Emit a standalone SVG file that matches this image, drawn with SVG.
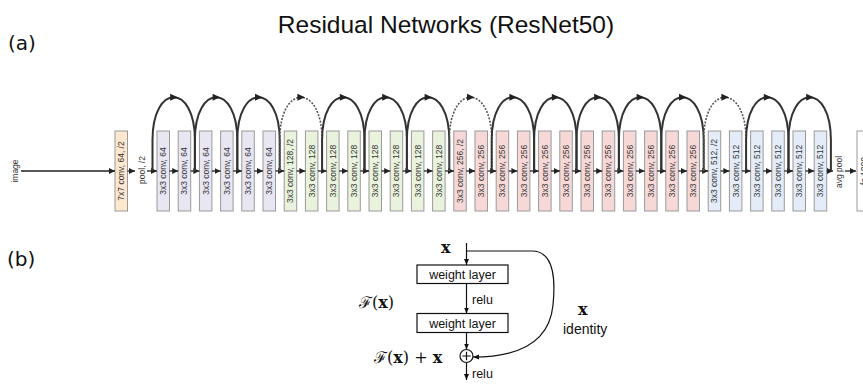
<svg xmlns="http://www.w3.org/2000/svg" xmlns:xlink="http://www.w3.org/1999/xlink" width="863" height="384" viewBox="0 0 863 384">
  <style>
    .title { font-family: "Liberation Sans", Arial, sans-serif; font-size: 24.5px; fill: #111; }
    .tag { font-family: "DejaVu Sans", sans-serif; font-size: 20px; fill: #111; }
    .conv rect { stroke: #9a9a9a; stroke-width: 1; }
    .conv text, .lbl { font-family: "Liberation Sans", Arial, sans-serif; font-size: 8.5px; fill: #333; text-anchor: middle; dominant-baseline: central; }
    .s0 rect { fill: #fde7cf; }
    .s1 rect { fill: #e8e6f2; }
    .s2 rect { fill: #e9f2dc; }
    .s3 rect { fill: #f6d9d7; }
    .s4 rect { fill: #e3ecf7; }
    .fc rect { fill: #ffffff; }
    .flow { stroke: #222; stroke-width: 1.3; fill: none; marker-end: url(#ah); }
    .skip { stroke: #333; stroke-width: 2; fill: none; }
    .skip.proj { stroke: #555; stroke-width: 1.6; stroke-dasharray: 2 1.4; }
    .tip { fill: #222; }
    .blk rect { fill: #fff; stroke: #111; stroke-width: 1.2; }
    .blk text, .bl { font-family: "Liberation Sans", Arial, sans-serif; font-size: 12.5px; fill: #111; }
    .math { font-family: "DejaVu Serif", "Liberation Serif", serif; font-size: 16px; fill: #111; }
    .bx { font-weight: bold; }
    .bline { stroke: #111; stroke-width: 1.2; fill: none; }
    .barrow { stroke: #111; stroke-width: 1.2; fill: none; marker-end: url(#bh); }
  </style>
  <defs>
    <marker id="ah" markerUnits="userSpaceOnUse" markerWidth="7" markerHeight="7" refX="6" refY="3.5" orient="auto">
      <path d="M0,0.5 L6,3.5 L0,6.5 z" fill="#222"/>
    </marker>
    <marker id="bh" markerUnits="userSpaceOnUse" markerWidth="7" markerHeight="7" refX="6" refY="3.5" orient="auto">
      <path d="M0,1 L6,3.5 L0,6 z" fill="#111"/>
    </marker>
    <path id="peak" d="M-3.5,-3.5 L4,0 L-3.5,3.5 z"/>
  </defs>

  <text class="title" x="446" y="33" text-anchor="middle">Residual Networks (ResNet50)</text>
  <text class="tag" x="8" y="50">(a)</text>
  <text class="tag" x="7" y="266">(b)</text>

  <!-- (a) ResNet chain -->
  <text class="lbl" transform="translate(15,171) rotate(-90)">image</text>
  <text class="lbl" transform="translate(142,170) rotate(-90)">pool, /2</text>
  <text class="lbl" transform="translate(839,172) rotate(-90)">avg pool</text>

  <g id="conv1" class="conv s0" transform="translate(115,131)"><rect width="12.5" height="80"/><text transform="translate(6.25,40) rotate(-90)">7x7 conv, 64, /2</text></g>

  <g id="c01" class="conv s1" transform="translate(157,131)"><rect width="12.5" height="80"/><text transform="translate(6.25,40) rotate(-90)">3x3 conv, 64</text></g>
  <g id="c02" class="conv s1" transform="translate(178.2,131)"><rect width="12.5" height="80"/><text transform="translate(6.25,40) rotate(-90)">3x3 conv, 64</text></g>
  <g id="c03" class="conv s1" transform="translate(199.4,131)"><rect width="12.5" height="80"/><text transform="translate(6.25,40) rotate(-90)">3x3 conv, 64</text></g>
  <g id="c04" class="conv s1" transform="translate(220.6,131)"><rect width="12.5" height="80"/><text transform="translate(6.25,40) rotate(-90)">3x3 conv, 64</text></g>
  <g id="c05" class="conv s1" transform="translate(241.8,131)"><rect width="12.5" height="80"/><text transform="translate(6.25,40) rotate(-90)">3x3 conv, 64</text></g>
  <g id="c06" class="conv s1" transform="translate(263,131)"><rect width="12.5" height="80"/><text transform="translate(6.25,40) rotate(-90)">3x3 conv, 64</text></g>

  <g id="c07" class="conv s2" transform="translate(284.2,131)"><rect width="12.5" height="80"/><text transform="translate(6.25,40) rotate(-90)">3x3 conv, 128, /2</text></g>
  <g id="c08" class="conv s2" transform="translate(305.4,131)"><rect width="12.5" height="80"/><text transform="translate(6.25,40) rotate(-90)">3x3 conv, 128</text></g>
  <g id="c09" class="conv s2" transform="translate(326.6,131)"><rect width="12.5" height="80"/><text transform="translate(6.25,40) rotate(-90)">3x3 conv, 128</text></g>
  <g id="c10" class="conv s2" transform="translate(347.8,131)"><rect width="12.5" height="80"/><text transform="translate(6.25,40) rotate(-90)">3x3 conv, 128</text></g>
  <g id="c11" class="conv s2" transform="translate(369,131)"><rect width="12.5" height="80"/><text transform="translate(6.25,40) rotate(-90)">3x3 conv, 128</text></g>
  <g id="c12" class="conv s2" transform="translate(390.2,131)"><rect width="12.5" height="80"/><text transform="translate(6.25,40) rotate(-90)">3x3 conv, 128</text></g>
  <g id="c13" class="conv s2" transform="translate(411.4,131)"><rect width="12.5" height="80"/><text transform="translate(6.25,40) rotate(-90)">3x3 conv, 128</text></g>
  <g id="c14" class="conv s2" transform="translate(432.6,131)"><rect width="12.5" height="80"/><text transform="translate(6.25,40) rotate(-90)">3x3 conv, 128</text></g>

  <g id="c15" class="conv s3" transform="translate(453.8,131)"><rect width="12.5" height="80"/><text transform="translate(6.25,40) rotate(-90)">3x3 conv, 256, /2</text></g>
  <g id="c16" class="conv s3" transform="translate(475,131)"><rect width="12.5" height="80"/><text transform="translate(6.25,40) rotate(-90)">3x3 conv, 256</text></g>
  <g id="c17" class="conv s3" transform="translate(496.2,131)"><rect width="12.5" height="80"/><text transform="translate(6.25,40) rotate(-90)">3x3 conv, 256</text></g>
  <g id="c18" class="conv s3" transform="translate(517.4,131)"><rect width="12.5" height="80"/><text transform="translate(6.25,40) rotate(-90)">3x3 conv, 256</text></g>
  <g id="c19" class="conv s3" transform="translate(538.6,131)"><rect width="12.5" height="80"/><text transform="translate(6.25,40) rotate(-90)">3x3 conv, 256</text></g>
  <g id="c20" class="conv s3" transform="translate(559.8,131)"><rect width="12.5" height="80"/><text transform="translate(6.25,40) rotate(-90)">3x3 conv, 256</text></g>
  <g id="c21" class="conv s3" transform="translate(581,131)"><rect width="12.5" height="80"/><text transform="translate(6.25,40) rotate(-90)">3x3 conv, 256</text></g>
  <g id="c22" class="conv s3" transform="translate(602.2,131)"><rect width="12.5" height="80"/><text transform="translate(6.25,40) rotate(-90)">3x3 conv, 256</text></g>
  <g id="c23" class="conv s3" transform="translate(623.4,131)"><rect width="12.5" height="80"/><text transform="translate(6.25,40) rotate(-90)">3x3 conv, 256</text></g>
  <g id="c24" class="conv s3" transform="translate(644.6,131)"><rect width="12.5" height="80"/><text transform="translate(6.25,40) rotate(-90)">3x3 conv, 256</text></g>
  <g id="c25" class="conv s3" transform="translate(665.8,131)"><rect width="12.5" height="80"/><text transform="translate(6.25,40) rotate(-90)">3x3 conv, 256</text></g>
  <g id="c26" class="conv s3" transform="translate(687,131)"><rect width="12.5" height="80"/><text transform="translate(6.25,40) rotate(-90)">3x3 conv, 256</text></g>

  <g id="c27" class="conv s4" transform="translate(708.2,131)"><rect width="12.5" height="80"/><text transform="translate(6.25,40) rotate(-90)">3x3 conv, 512, /2</text></g>
  <g id="c28" class="conv s4" transform="translate(729.4,131)"><rect width="12.5" height="80"/><text transform="translate(6.25,40) rotate(-90)">3x3 conv, 512</text></g>
  <g id="c29" class="conv s4" transform="translate(750.6,131)"><rect width="12.5" height="80"/><text transform="translate(6.25,40) rotate(-90)">3x3 conv, 512</text></g>
  <g id="c30" class="conv s4" transform="translate(771.8,131)"><rect width="12.5" height="80"/><text transform="translate(6.25,40) rotate(-90)">3x3 conv, 512</text></g>
  <g id="c31" class="conv s4" transform="translate(793,131)"><rect width="12.5" height="80"/><text transform="translate(6.25,40) rotate(-90)">3x3 conv, 512</text></g>
  <g id="c32" class="conv s4" transform="translate(814.2,131)"><rect width="12.5" height="80"/><text transform="translate(6.25,40) rotate(-90)">3x3 conv, 512</text></g>

  <!-- the fc layer runs past the right edge of the canvas -->
  <g id="fc" class="conv fc" transform="translate(857,131)"><rect width="14" height="80"/><text transform="translate(7,40) rotate(-90)">fc 1000</text></g>

  <g id="connectors">
    <!-- main path -->
    <path class="flow" d="M21,171 H115"/>
    <path class="flow" d="M127.5,171 H135"/>
    <path class="flow" d="M147,171 H157"/>
    <path class="flow" d="M169.5,171 H178.2"/>
    <path class="flow" d="M190.7,171 H199.4"/>
    <path class="flow" d="M211.9,171 H220.6"/>
    <path class="flow" d="M233.1,171 H241.8"/>
    <path class="flow" d="M254.3,171 H263"/>
    <path class="flow" d="M275.5,171 H284.2"/>
    <path class="flow" d="M296.7,171 H305.4"/>
    <path class="flow" d="M317.9,171 H326.6"/>
    <path class="flow" d="M339.1,171 H347.8"/>
    <path class="flow" d="M360.3,171 H369"/>
    <path class="flow" d="M381.5,171 H390.2"/>
    <path class="flow" d="M402.7,171 H411.4"/>
    <path class="flow" d="M423.9,171 H432.6"/>
    <path class="flow" d="M445.1,171 H453.8"/>
    <path class="flow" d="M466.3,171 H475"/>
    <path class="flow" d="M487.5,171 H496.2"/>
    <path class="flow" d="M508.7,171 H517.4"/>
    <path class="flow" d="M529.9,171 H538.6"/>
    <path class="flow" d="M551.1,171 H559.8"/>
    <path class="flow" d="M572.3,171 H581"/>
    <path class="flow" d="M593.5,171 H602.2"/>
    <path class="flow" d="M614.7,171 H623.4"/>
    <path class="flow" d="M635.9,171 H644.6"/>
    <path class="flow" d="M657.1,171 H665.8"/>
    <path class="flow" d="M678.3,171 H687"/>
    <path class="flow" d="M699.5,171 H708.2"/>
    <path class="flow" d="M720.7,171 H729.4"/>
    <path class="flow" d="M741.9,171 H750.6"/>
    <path class="flow" d="M763.1,171 H771.8"/>
    <path class="flow" d="M784.3,171 H793"/>
    <path class="flow" d="M805.5,171 H814.2"/>
    <path class="flow" d="M826.7,171 H833"/>
    <path class="flow" d="M845,171 H856"/>

    <!-- shortcut arcs (dotted ones are the projection shortcuts) -->
    <path class="skip" d="M152.5,171 V140 C152.5,83 194.9,83 194.9,140 V171"/>
    <path class="skip" d="M194.9,171 V140 C194.9,83 237.3,83 237.3,140 V171"/>
    <path class="skip" d="M237.3,171 V140 C237.3,83 279.7,83 279.7,140 V171"/>
    <path class="skip proj" d="M279.7,171 V140 C279.7,83 322.1,83 322.1,140 V171"/>
    <path class="skip" d="M322.1,171 V140 C322.1,83 364.5,83 364.5,140 V171"/>
    <path class="skip" d="M364.5,171 V140 C364.5,83 406.9,83 406.9,140 V171"/>
    <path class="skip" d="M406.9,171 V140 C406.9,83 449.3,83 449.3,140 V171"/>
    <path class="skip proj" d="M449.3,171 V140 C449.3,83 491.7,83 491.7,140 V171"/>
    <path class="skip" d="M491.7,171 V140 C491.7,83 534.1,83 534.1,140 V171"/>
    <path class="skip" d="M534.1,171 V140 C534.1,83 576.5,83 576.5,140 V171"/>
    <path class="skip" d="M576.5,171 V140 C576.5,83 618.9,83 618.9,140 V171"/>
    <path class="skip" d="M618.9,171 V140 C618.9,83 661.3,83 661.3,140 V171"/>
    <path class="skip" d="M661.3,171 V140 C661.3,83 703.7,83 703.7,140 V171"/>
    <path class="skip proj" d="M703.7,171 V140 C703.7,83 746.1,83 746.1,140 V171"/>
    <path class="skip" d="M746.1,171 V140 C746.1,83 788.5,83 788.5,140 V171"/>
    <path class="skip" d="M788.5,171 V140 C788.5,83 830.9,83 830.9,140 V171"/>

    <g class="tip">
      <use xlink:href="#peak" x="173.7" y="97.25"/>
      <use xlink:href="#peak" x="216.1" y="97.25"/>
      <use xlink:href="#peak" x="258.5" y="97.25"/>
      <use xlink:href="#peak" x="300.9" y="97.25"/>
      <use xlink:href="#peak" x="343.3" y="97.25"/>
      <use xlink:href="#peak" x="385.7" y="97.25"/>
      <use xlink:href="#peak" x="428.1" y="97.25"/>
      <use xlink:href="#peak" x="470.5" y="97.25"/>
      <use xlink:href="#peak" x="512.9" y="97.25"/>
      <use xlink:href="#peak" x="555.3" y="97.25"/>
      <use xlink:href="#peak" x="597.7" y="97.25"/>
      <use xlink:href="#peak" x="640.1" y="97.25"/>
      <use xlink:href="#peak" x="682.5" y="97.25"/>
      <use xlink:href="#peak" x="724.9" y="97.25"/>
      <use xlink:href="#peak" x="767.3" y="97.25"/>
      <use xlink:href="#peak" x="809.7" y="97.25"/>
    </g>
  </g>

  <!-- (b) residual building block -->
  <g id="block-in"><text class="math bx" x="441" y="253">x</text></g>
  <g id="wl1" class="blk"><rect x="417" y="265" width="91" height="18.5"/><text x="462.5" y="278.5" text-anchor="middle">weight layer</text></g>
  <g id="wl2" class="blk"><rect x="417" y="313.5" width="91" height="19"/><text x="462.5" y="327.5" text-anchor="middle">weight layer</text></g>
  <g id="sum"><circle class="bline" cx="466.5" cy="356" r="6.5"/><path class="bline" d="M462.3,356 H470.7 M466.5,351.8 V360.2"/></g>

  <g id="block-connectors">
    <path class="barrow" d="M466.5,243 V265"/>
    <path class="barrow" d="M466.5,283.5 V313.5"/>
    <path class="barrow" d="M466.5,332.5 V349.5"/>
    <path class="barrow" d="M466.5,362.5 V380"/>
    <path class="barrow" d="M466.5,251 H532 C556,251 555,285 553,305 C550,336 528,357 473,357"/>
  </g>

  <text class="bl" x="472" y="304">relu</text>
  <text class="bl" x="472" y="378">relu</text>
  <text class="math" x="359" y="308">ℱ(<tspan class="bx">x</tspan>)</text>
  <text class="math" x="374" y="363">ℱ(<tspan class="bx">x</tspan>) + <tspan class="bx">x</tspan></text>
  <text class="math bx" x="578" y="315">x</text>
  <text class="bl" x="563" y="334" style="font-size:14px">identity</text>
</svg>
